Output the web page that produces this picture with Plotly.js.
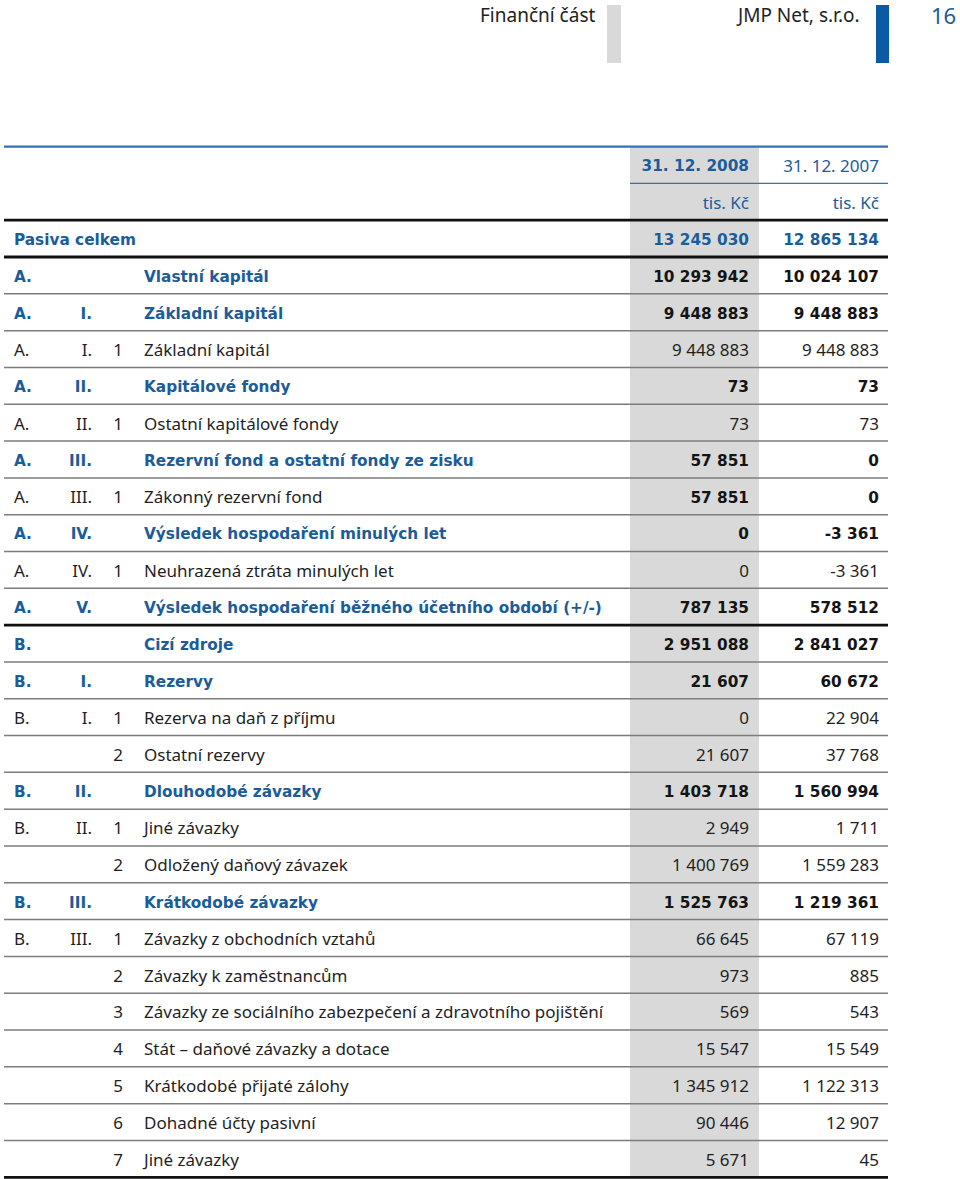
<!DOCTYPE html>
<html>
<head>
<meta charset="utf-8">
<script src="https://cdn.plot.ly/plotly-3.0.1.min.js"></script>
<style>
  html, body { margin: 0; padding: 0; background: #ffffff; }
  #chart { width: 960px; height: 1179px; }
</style>
</head>
<body>
<div id="chart"></div>
<script>
// ---------------- DATA ----------------
const headerTitles = ['31. 12. 2008', '31. 12. 2007'];
const unitLabels = ['tis. Kč', 'tis. Kč'];

const rowKind = ['total','group','group','item','group','item','group','item','group','item','group',
                 'group','group','item','item','group','item','item','group','item','item','item','item','item','item','item'];
const codeLetter = ['', 'A.','A.','A.','A.','A.','A.','A.','A.','A.','A.',
                    'B.','B.','B.','', 'B.','B.','', 'B.','B.','','','','','',''];
const codeRoman  = ['', '', 'I.','I.','II.','II.','III.','III.','IV.','IV.','V.',
                    '', 'I.','I.','', 'II.','II.','', 'III.','III.','','','','','',''];
const codeNumber = ['', '', '', '1', '', '1', '', '1', '', '1', '',
                    '', '', '1', '2', '', '1', '2', '', '1', '2', '3', '4', '5', '6', '7'];
const labels = [
  'Pasiva celkem',
  'Vlastní kapitál',
  'Základní kapitál',
  'Základní kapitál',
  'Kapitálové fondy',
  'Ostatní kapitálové fondy',
  'Rezervní fond a ostatní fondy ze zisku',
  'Zákonný rezervní fond',
  'Výsledek hospodaření minulých let',
  'Neuhrazená ztráta minulých let',
  'Výsledek hospodaření běžného účetního období (+/-)',
  'Cizí zdroje',
  'Rezervy',
  'Rezerva na daň z příjmu',
  'Ostatní rezervy',
  'Dlouhodobé závazky',
  'Jiné závazky',
  'Odložený daňový závazek',
  'Krátkodobé závazky',
  'Závazky z obchodních vztahů',
  'Závazky k zaměstnancům',
  'Závazky ze sociálního zabezpečení a zdravotního pojištění',
  'Stát – daňové závazky a dotace',
  'Krátkodobé přijaté zálohy',
  'Dohadné účty pasivní',
  'Jiné závazky'
];
const values2008 = [13245030, 10293942, 9448883, 9448883, 73, 73, 57851, 57851, 0, 0, 787135,
                    2951088, 21607, 0, 21607, 1403718, 2949, 1400769, 1525763, 66645, 973, 569, 15547, 1345912, 90446, 5671];
const values2007 = [12865134, 10024107, 9448883, 9448883, 73, 73, 0, 0, -3361, -3361, 578512,
                    2841027, 60672, 22904, 37768, 1560994, 1711, 1559283, 1219361, 67119, 885, 543, 15549, 1122313, 12907, 45];

// ---------------- STYLE / LAYOUT ----------------
const BLUE = '#1b5c99';
const TXT = '#1f1f1f';
const BOLDTXT = '#141414';
const BOLD_FAMILY = 'DejaVu Sans, sans-serif';
const REG_FAMILY = 'Noto Sans, sans-serif';
const BOLD_SIZE = 15.3;
const REG_SIZE = 17;
const emphasisedValueRows = [7];   // row whose values are printed in bold in the source

const HEADER_ROWS = 2;             // y index 0 = dates, 1 = units
const TEXT_DY = 0.07;              // small baseline nudge of text within a row (row units)
const COL = { letter: 14, roman: 92, num: 123, label: 144, v2008: 749, v2007: 879 };
const TABLE_LEFT = 4, TABLE_RIGHT = 888, GREY_LEFT = 630, GREY_RIGHT = 759;

function fmt(n) {
  const s = Math.abs(n).toString().replace(/\B(?=(\d{3})+(?!\d))/g, ' ');
  return (n < 0 ? '-' : '') + s;
}
function b(s) { return s ? '<b>' + s + '</b>' : s; }

const nRows = labels.length;
const yIdx = labels.map((_, i) => i + HEADER_ROWS);

function isBoldLabel(i) { return rowKind[i] !== 'item'; }
function isBoldValue(i) { return rowKind[i] !== 'item' || emphasisedValueRows.includes(i); }

function textTrace(xPos, ys, texts, pos, colors, fams, sizes) {
  return {
    type: 'scatter', mode: 'text',
    x: ys.map(() => xPos), y: ys.map(v => v + TEXT_DY), text: texts,
    textposition: pos,
    textfont: { color: colors, family: fams, size: sizes },
    hoverinfo: 'skip', showlegend: false, cliponaxis: false
  };
}

const traces = [];
// letter column (also holds "Pasiva celkem")
traces.push(textTrace(COL.letter, yIdx,
  labels.map((l, i) => rowKind[i] === 'total' ? b(l) : (isBoldLabel(i) ? b(codeLetter[i]) : codeLetter[i])),
  'middle right',
  labels.map((l, i) => isBoldLabel(i) ? BLUE : TXT),
  labels.map((l, i) => isBoldLabel(i) ? BOLD_FAMILY : REG_FAMILY),
  labels.map((l, i) => isBoldLabel(i) ? BOLD_SIZE : REG_SIZE)));
// roman column
traces.push(textTrace(COL.roman, yIdx,
  codeRoman.map((r, i) => isBoldLabel(i) ? b(r) : r), 'middle left',
  labels.map((l, i) => isBoldLabel(i) ? BLUE : TXT),
  labels.map((l, i) => isBoldLabel(i) ? BOLD_FAMILY : REG_FAMILY),
  labels.map((l, i) => isBoldLabel(i) ? BOLD_SIZE : REG_SIZE)));
// number column
traces.push(textTrace(COL.num, yIdx, codeNumber, 'middle left',
  labels.map(() => TXT), labels.map(() => REG_FAMILY), labels.map(() => REG_SIZE)));
// label column
traces.push(textTrace(COL.label, yIdx,
  labels.map((l, i) => rowKind[i] === 'total' ? '' : (isBoldLabel(i) ? b(l) : l)), 'middle right',
  labels.map((l, i) => isBoldLabel(i) ? BLUE : TXT),
  labels.map((l, i) => isBoldLabel(i) ? BOLD_FAMILY : REG_FAMILY),
  labels.map((l, i) => isBoldLabel(i) ? BOLD_SIZE : REG_SIZE)));
// value columns
[[values2008, COL.v2008], [values2007, COL.v2007]].forEach(([vals, xc]) => {
  traces.push(textTrace(xc, yIdx,
    vals.map((v, i) => isBoldValue(i) ? b(fmt(v)) : fmt(v)), 'middle left',
    vals.map((v, i) => rowKind[i] === 'total' ? BLUE : (isBoldValue(i) ? BOLDTXT : TXT)),
    vals.map((v, i) => isBoldValue(i) ? BOLD_FAMILY : REG_FAMILY),
    vals.map((v, i) => isBoldValue(i) ? BOLD_SIZE : REG_SIZE)));
});
// header rows
traces.push(textTrace(COL.v2008, [0, 1], [b(headerTitles[0]), unitLabels[0]], 'middle left',
  [BLUE, BLUE], [BOLD_FAMILY, REG_FAMILY], [BOLD_SIZE, REG_SIZE]));
traces.push(textTrace(COL.v2007, [0, 1], [headerTitles[1], unitLabels[1]], 'middle left',
  [BLUE, BLUE], [REG_FAMILY, REG_FAMILY], [REG_SIZE, REG_SIZE]));

// ---------------- SHAPES ----------------
const lastRow = nRows + HEADER_ROWS - 1;
const shapes = [];
shapes.push({ type: 'rect', xref: 'x', yref: 'y', x0: GREY_LEFT, x1: GREY_RIGHT, y0: -0.5, y1: lastRow + 0.5,
  fillcolor: '#d9d9d9', line: { width: 0 }, layer: 'below' });
shapes.push({ type: 'line', xref: 'x', yref: 'y', x0: TABLE_LEFT, x1: TABLE_RIGHT, y0: -0.5, y1: -0.5,
  line: { color: '#3471b3', width: 2.2 } });
shapes.push({ type: 'line', xref: 'x', yref: 'y', x0: GREY_LEFT, x1: TABLE_RIGHT, y0: 0.5, y1: 0.5,
  line: { color: '#3d6f9f', width: 1.4 } });
for (let r = 1; r <= lastRow; r++) {
  const i = r - HEADER_ROWS;          // data row above the separator
  const next = i + 1;
  let heavy = (r === 1) || (r === lastRow) || rowKind[i] === 'total' ||
              (next < nRows && codeLetter[i] && codeLetter[next] && codeLetter[i] !== codeLetter[next]);
  shapes.push({ type: 'line', xref: 'x', yref: 'y', x0: TABLE_LEFT, x1: TABLE_RIGHT, y0: r + 0.5, y1: r + 0.5,
    line: { color: heavy ? '#111111' : '#7d7d7d', width: heavy ? 2.8 : 1.5 } });
}
// page header bars
const H = 1179;
shapes.push({ type: 'rect', xref: 'x', yref: 'paper', x0: 607, x1: 621, y0: 1 - 63 / H, y1: 1 - 5 / H,
  fillcolor: '#d9d9d9', line: { width: 0 } });
shapes.push({ type: 'rect', xref: 'x', yref: 'paper', x0: 876, x1: 889, y0: 1 - 63 / H, y1: 1 - 5 / H,
  fillcolor: '#0b5aa6', line: { width: 0 } });

const annotations = [
  { text: 'Finanční část', x: 597, y: 1 - 15 / H, xref: 'x', yref: 'paper', xanchor: 'right', yanchor: 'middle',
    showarrow: false, font: { family: REG_FAMILY, size: 19, color: '#222' } },
  { text: 'JMP Net, s.r.o.', x: 862, y: 1 - 15 / H, xref: 'x', yref: 'paper', xanchor: 'right', yanchor: 'middle',
    showarrow: false, font: { family: REG_FAMILY, size: 19, color: '#222' } },
  { text: '16', x: 929, y: 1 - 15 / H, xref: 'x', yref: 'paper', xanchor: 'left', yanchor: 'middle',
    showarrow: false, font: { family: REG_FAMILY, size: 22, color: BLUE } }
];

// row pitch mapping: row 0 centred at 165 px, pitch 36.81 px
const PITCH = 36.81, ROW0 = 165;
const yTop = -ROW0 / PITCH, yBottom = yTop + H / PITCH;

const layout = {
  width: 960, height: 1179,
  margin: { l: 0, r: 0, t: 0, b: 0, pad: 0 },
  paper_bgcolor: '#ffffff', plot_bgcolor: '#ffffff',
  xaxis: { range: [0, 960], visible: false, fixedrange: true },
  yaxis: { range: [yBottom, yTop], visible: false, fixedrange: true },
  shapes: shapes, annotations: annotations,
  showlegend: false, hovermode: false
};

Plotly.newPlot('chart', traces, layout, { staticPlot: true, displayModeBar: false });
</script>
</body>
</html>
